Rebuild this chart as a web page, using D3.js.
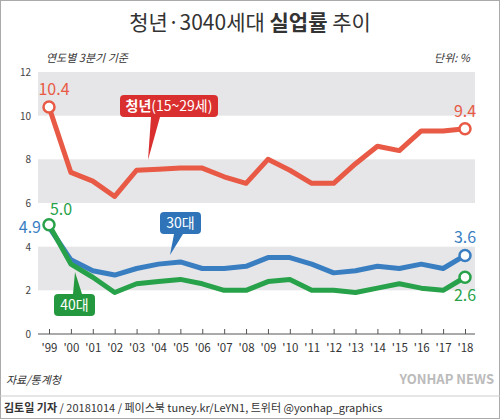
<!DOCTYPE html>
<html><head><meta charset="utf-8">
<script src="https://cdn.jsdelivr.net/npm/d3@7"></script>
<style>body{margin:0;background:#fff}text{font-family:"Noto Sans CJK KR","Noto Sans",sans-serif}</style>
</head><body><div id="chart"></div>
<script>
const years = ["'99","'00","'01","'02","'03","'04","'05","'06","'07","'08","'09","'10","'11","'12","'13","'14","'15","'16","'17","'18"];
const youth = [10.4,7.4,7.0,6.3,7.5,7.55,7.6,7.6,7.2,6.9,8.0,7.5,6.9,6.9,7.8,8.6,8.4,9.3,9.3,9.4];
const thirties = [4.9,3.4,2.9,2.7,3.0,3.2,3.3,3.0,3.0,3.1,3.5,3.5,3.2,2.8,2.9,3.1,3.0,3.2,3.0,3.6];
const forties = [5.0,3.2,2.6,1.9,2.3,2.4,2.5,2.3,2.0,2.0,2.4,2.5,2.0,2.0,1.9,2.1,2.3,2.1,2.0,2.6];
const yTicks = [0,2,4,6,8,10,12];

const W = 500, H = 419;
const svg = d3.select("#chart").append("svg").attr("width", W).attr("height", H);
svg.append("rect").attr("x",0.5).attr("y",0.5).attr("width",W-1).attr("height",H-1).attr("fill","#fff").attr("stroke","#aaa");

const x = d3.scalePoint().domain(years).range([49, 465]);
const y = d3.scaleLinear().domain([0, 12]).range([334, 72]);

// gray bands
[[10,12],[6,8],[2,4]].forEach(b => {
  svg.append("rect").attr("x", 38).attr("width", 437)
    .attr("y", y(b[1])).attr("height", y(b[0]) - y(b[1])).attr("fill", "#e6e6e8");
});

svg.append("text").attr("x", 250).attr("y", 30).attr("text-anchor","middle")
  .attr("font-size", 21).attr("fill","#333")
  .html('청년·3040세대 <tspan font-weight="bold">실업률</tspan> 추이');
svg.append("text").attr("x", 46).attr("y", 62).attr("font-size", 11).attr("fill","#333").attr("font-style","italic").text("연도별 3분기 기준");
svg.append("text").attr("x", 470).attr("y", 62).attr("text-anchor","end").attr("font-size", 11).attr("fill","#333").attr("font-style","italic").text("단위: %");

// y axis labels
svg.selectAll(".yt").data(yTicks).enter().append("text")
  .attr("x", 31).attr("y", d => y(d) + 4).attr("text-anchor","end")
  .attr("font-size", 10).attr("fill","#444").text(d => d);

// x axis
const xAxis = d3.axisBottom(x).tickSize(5).tickSizeOuter(0);
const gx = svg.append("g").attr("transform", `translate(0,${y(0)})`).call(xAxis);
gx.select(".domain").attr("d", "M38,0H475").attr("stroke","#555");
gx.selectAll(".tick line").attr("y1",-5).attr("y2",0).attr("stroke","#555");
gx.selectAll("text").attr("font-size", 11.5).attr("fill","#333").attr("dy","0.9em");

const line = d3.line().x((d,i) => x(years[i])).y(d => y(d)).curve(d3.curveLinear);
const series = [[youth,"#e85a45"],[thirties,"#3a7ec2"],[forties,"#28a24a"]];
series.forEach(([data,c]) => {
  svg.append("path").datum(data).attr("d", line).attr("fill","none")
    .attr("stroke", c).attr("stroke-width", 5).attr("stroke-linejoin","round");
});
function endDot(v, i, c) {
  svg.append("circle").attr("cx", x(years[i])).attr("cy", y(v)).attr("r", 5.5)
    .attr("fill","#fff").attr("stroke", c).attr("stroke-width", 2.5);
}
endDot(youth[0],0,"#e85a45"); endDot(youth[19],19,"#e85a45");
endDot(thirties[19],19,"#3a7ec2");
endDot(forties[0],0,"#28a24a"); endDot(forties[19],19,"#28a24a");

function val(t, px, py, c, anchor) {
  svg.append("text").attr("x", px).attr("y", py).attr("text-anchor", anchor || "middle")
    .attr("font-size", 16).attr("fill", c).text(t);
}
val("10.4", x(years[0]) + 5, y(youth[0]) - 12, "#e85a45");
val("9.4", x(years[19]), y(youth[19]) - 12, "#e85a45");
val("5.0", x(years[0]) + 12, y(forties[0]) - 10, "#28a24a");
val("4.9", x(years[0]) - 8, y(thirties[0]) + 6, "#3a7ec2", "end");
val("3.6", x(years[19]), y(thirties[19]) - 12, "#3a7ec2");
val("2.6", x(years[19]), y(forties[19]) + 24, "#28a24a");

// callout labels
function callout(txt, bx, by, bw, c, tipX, tipY, baseX, up) {
  const bh = 22;
  const yb = up ? by + bh : by;
  svg.append("path").attr("fill", c)
    .attr("d", `M${baseX-4},${yb}L${tipX},${tipY}L${baseX+5},${yb}Z`);
  svg.append("rect").attr("x", bx).attr("y", by).attr("width", bw).attr("height", bh)
    .attr("rx", 4).attr("fill", c);
  svg.append("text").attr("x", bx + bw/2).attr("y", by + 16).attr("text-anchor","middle")
    .attr("font-size", 14).attr("fill","#fff").html(txt);
}
callout('<tspan font-weight="bold">청년</tspan>(15~29세)', 120, 95, 98, "#d9302f", 148, 160, 155, true);
callout('30대', 160, 212, 41, "#2f74b8", 170, 255, 178, true);
callout('40대', 54, 294, 41, "#24983f", 75, 272, 77, false);

svg.append("text").attr("x", 6).attr("y", 384).attr("font-size", 11).attr("font-style","italic").attr("fill","#333").text("자료/통계청");
svg.append("line").attr("x1",0).attr("x2",W).attr("y1",396).attr("y2",396).attr("stroke","#ccc");
svg.append("text").attr("x", 4).attr("y", 412).attr("font-size", 11).attr("fill","#333")
  .html('<tspan font-weight="bold">김토일 기자</tspan> / 20181014 / 페이스북 tuney.kr/LeYN1, 트위터 @yonhap_graphics');
svg.append("text").attr("x", 494).attr("y", 384).attr("text-anchor","end").attr("font-size", 13).attr("font-weight","bold").attr("fill","#bbb").text("YONHAP NEWS");
</script></body></html>
